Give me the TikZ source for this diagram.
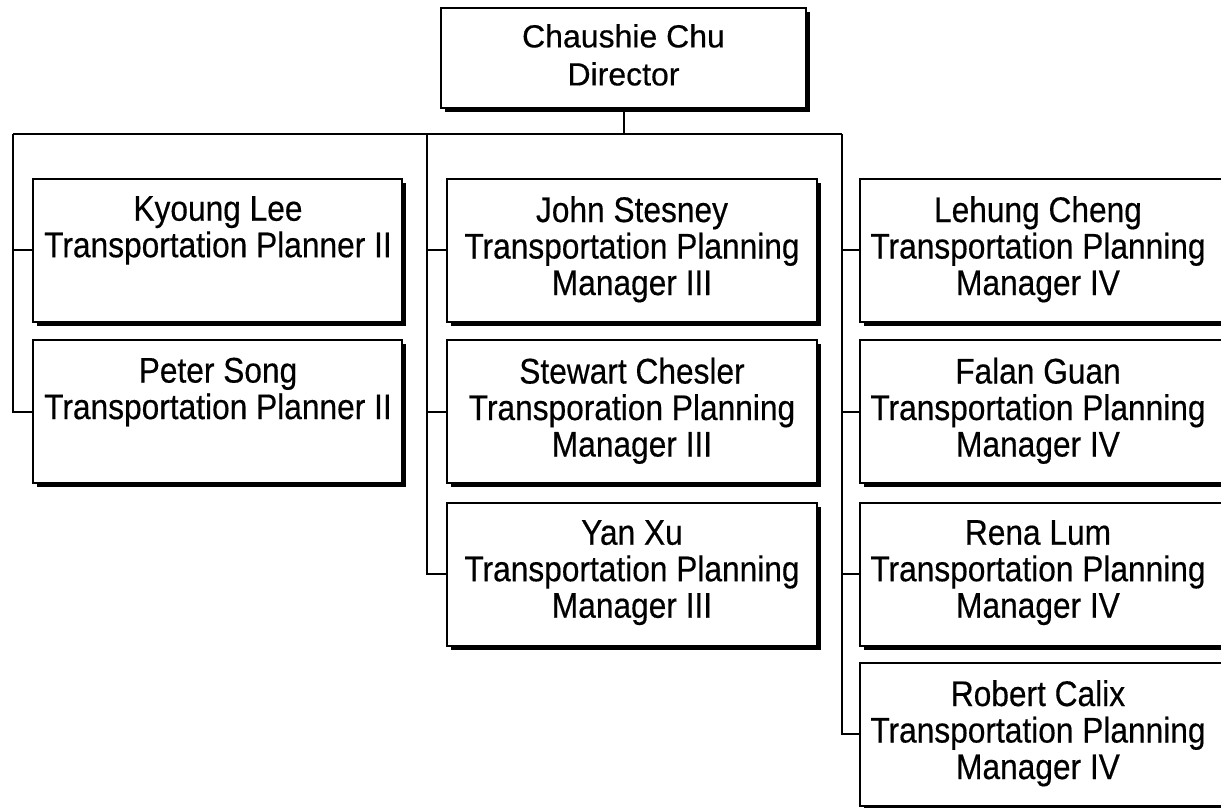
\documentclass[tikz,border=0pt]{standalone}
\usepackage{fontspec}
\setmainfont{Liberation Sans}[FakeBold=0.4]
\newfontfamily\boxfont{Liberation Sans}[FakeStretch=0.89,FakeBold=0.4]
\usetikzlibrary{shadows}
\begin{document}
\begin{tikzpicture}[x=1pt,y=1pt,
  box/.style={draw=black, line width=2pt, fill=white, rectangle, inner sep=0pt,
    drop shadow={shadow xshift=4pt, shadow yshift=-4pt, fill=black, opacity=1}},
  lbl/.style={anchor=north, inner sep=0pt, align=center,
    font=\boxfont\fontsize{35.6pt}{36.5pt}\selectfont},
  toplbl/.style={anchor=north, inner sep=0pt, align=center,
    font=\fontsize{32pt}{38pt}\selectfont},
  conn/.style={line width=2pt}]
\useasboundingbox (0,0) rectangle (1221,-807);
\clip (0,0) rectangle (1221,-807);
\fill[white] (0,0) rectangle (1221,-807);

% bus coordinates
\coordinate (bl) at (13,-134);
\coordinate (bm) at (427,-134);
\coordinate (br) at (842,-134);

% boxes
\node[box, minimum width=365pt, minimum height=100pt] (top) at (623.5,-58) {};
\node[box, minimum width=369pt, minimum height=143pt] (kl) at (217.5,-250) {};
\node[box, minimum width=369pt, minimum height=143pt] (ps) at (217.5,-411.5) {};
\node[box, minimum width=370pt, minimum height=143pt] (js) at (632,-250) {};
\node[box, minimum width=370pt, minimum height=143pt] (sc) at (632,-411.5) {};
\node[box, minimum width=370pt, minimum height=143pt] (yx) at (632,-574) {};
\node[box, minimum width=368pt, minimum height=143pt] (lc) at (1044,-250) {};
\node[box, minimum width=368pt, minimum height=143pt] (fg) at (1044,-411.5) {};
\node[box, minimum width=368pt, minimum height=143pt] (rl) at (1044,-574) {};
\node[box, minimum width=368pt, minimum height=143pt] (rc) at (1044,-734) {};

% labels
\node[toplbl] (ttop) at (623.5,-24) {Chaushie Chu\\Director};
\node[lbl] (tkl) at (218,-196) {Kyoung Lee\\Transportation Planner II};
\node[lbl] (tps) at (218,-357.5) {Peter Song\\Transportation Planner II};
\node[lbl] (tjs) at (632,-196) {John Stesney\\Transportation Planning\\Manager III};
\node[lbl] (tsc) at (632,-357.5) {Stewart Chesler\\Transporation Planning\\Manager III};
\node[lbl] (tyx) at (632,-520) {Yan Xu\\Transportation Planning\\Manager III};
\node[lbl] (tlc) at (1038,-196) {Lehung Cheng\\Transportation Planning\\Manager IV};
\node[lbl] (tfg) at (1038,-357.5) {Falan Guan\\Transportation Planning\\Manager IV};
\node[lbl] (trl) at (1038,-520) {Rena Lum\\Transportation Planning\\Manager IV};
\node[lbl] (trc) at (1038,-680) {Robert Calix\\Transportation Planning\\Manager IV};

% connectors
\draw[conn] (bl) -- (br);
\draw[conn] (top.south) -- (top.south |- bl);
\draw[conn] (bl) |- (ps.west);
\draw[conn] (bl |- kl.west) -- (kl.west);
\draw[conn] (bm) |- (yx.west);
\draw[conn] (bm |- js.west) -- (js.west);
\draw[conn] (bm |- sc.west) -- (sc.west);
\draw[conn] (br) |- (rc.west);
\draw[conn] (br |- lc.west) -- (lc.west);
\draw[conn] (br |- fg.west) -- (fg.west);
\draw[conn] (br |- rl.west) -- (rl.west);
\end{tikzpicture}
\end{document}
